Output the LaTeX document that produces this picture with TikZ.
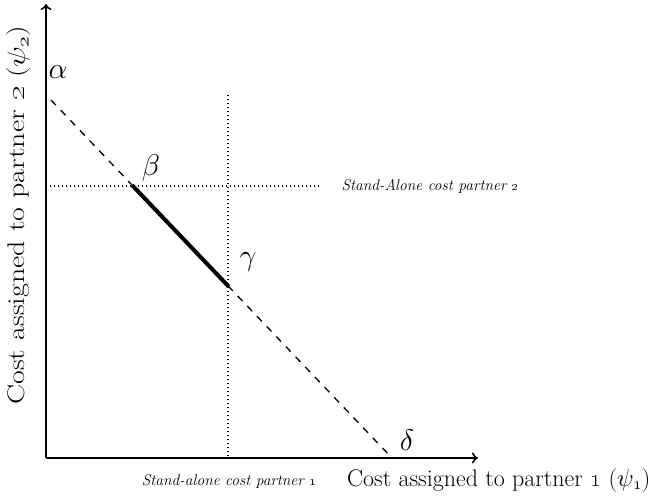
\documentclass[tikz,border=0pt]{standalone}
\usetikzlibrary{calc,intersections,arrows.meta}
\begin{document}
\begin{tikzpicture}[x=1pt,y=-1pt,
  axis/.style={line width=1.6pt,-{To[length=6pt,width=11pt]}},
  guide/.style={line width=1.4pt,dash pattern=on 1.4pt off 2.6pt},
  budget/.style={line width=1.3pt,dash pattern=on 7pt off 7pt},
  core/.style={line width=4pt},
  labeltxt/.style={font=\fontsize{24}{28}\selectfont},
  smalltxt/.style={font=\fontsize{15.5}{18}\selectfont\itshape},
  greek/.style={font=\fontsize{24}{28}\selectfont,scale=1.2}]
\useasboundingbox (0,0) rectangle (655,499);
% axes
\coordinate (O) at (46,458);
\coordinate (xend) at (478,458);
\coordinate (yend) at (46,4);
\draw[axis] (O) -- (xend);
\draw[axis] (O) -- (yend);
% stand-alone cost guides
\coordinate (h0) at (46,186);
\coordinate (h1) at (320,186);
\coordinate (v0) at (228,95);
\coordinate (v1) at (228,458);
\draw[guide,name path=hline] (h0) -- (h1);
\draw[guide,name path=vline] (v0) -- (v1);
% cost line psi1 + psi2 = total
\coordinate (A) at (51,100);
\coordinate (D) at (392,458);
\path[name path=cline] (A) -- (D);
\path[name intersections={of=cline and hline,by=B}];
\path[name intersections={of=cline and vline,by=G}];
\draw[budget] (A) -- (B);
\draw[budget] (G) -- (D);
\draw[core,shorten <=-1pt,shorten >=-1pt] (B) -- (G);
% labels
\node[greek] (la) at (58,72) {$\alpha$};
\node[greek] (lb) at (151,168) {$\beta$};
\node[greek] (lg) at (248,262) {$\gamma$};
\node[greek] (ld) at (407,440) {$\delta$};
\node[smalltxt,anchor=west] (sa2) at (338,186) {Stand-Alone cost partner \oldstylenums{2}};
\node[smalltxt] (sa1) at (229,482) {Stand-alone cost partner \oldstylenums{1}};
\node[labeltxt,anchor=east] (xl) at (654,480) {Cost assigned to partner \oldstylenums{1} ($\psi_{\oldstylenums{1}}$)};
\node[labeltxt,rotate=90,xscale=1.25] (yl) at (19,215) {Cost assigned to partner \oldstylenums{2} ($\psi_{\oldstylenums{2}}$)};
\end{tikzpicture}
\end{document}
